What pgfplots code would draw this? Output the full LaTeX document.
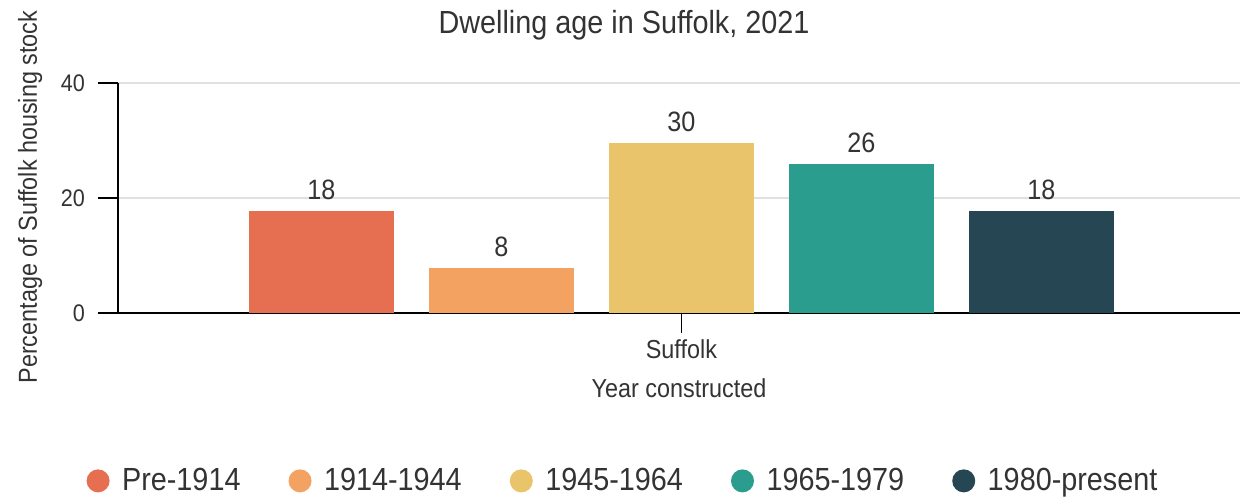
\documentclass[border=0pt]{standalone}
\usepackage{fontspec}
\setmainfont{Liberation Sans}[FakeStretch=0.9]
\usepackage{pgfplots}
\pgfplotsset{compat=1.18}
\definecolor{c1}{HTML}{E76F51}
\definecolor{c2}{HTML}{F4A261}
\definecolor{c3}{HTML}{E9C46A}
\definecolor{c4}{HTML}{2A9D8F}
\definecolor{c5}{HTML}{264653}
\definecolor{txt}{HTML}{333333}
\pgfplotsset{dotlegend/.style={legend image code/.code={\fill[##1] (0pt,0pt) circle (5.75pt); \path (10pt,0pt);}}}
\begin{document}
\begin{tikzpicture}
\begin{axis}[
  scale only axis, width=561pt, height=115pt,
  xmin=-0.13, xmax=6.103, ymin=0, ymax=40,
  axis x line*=bottom, axis y line*=left,
  axis line style={-, black, line width=0.9pt},
  ytick={0,20,40}, xtick={3}, xticklabels={Suffolk},
  tick align=outside, major tick length=10pt,
  tick style={black, line width=0.9pt},
  ymajorgrids, grid style={black!12, line width=0.8pt},
  ybar, bar width=0.81,
  /pgf/number format/assume math mode=true,
  yticklabel style={font=\fontsize{12}{14}\selectfont, text=txt, xshift=-3pt},
  xticklabel style={font=\fontsize{13}{15}\selectfont, text=txt},
  nodes near coords={\pgfmathprintnumber[fixed,precision=0]{\pgfplotspointmeta}},
  every node near coord/.style={font=\fontsize{14}{16}\selectfont, text=txt, yshift=2pt},
  title={Dwelling age in Suffolk, 2021},
  every axis title/.style={at={(axis description cs:0.451,1.252)}, anchor=center, font=\fontsize{16}{18}\selectfont, text=txt},
  xlabel={Year constructed},
  xlabel style={at={(axis description cs:0.5,-0.326)}, anchor=center, font=\fontsize{13}{15}\selectfont, text=txt},
  ylabel={Percentage of Suffolk housing stock},
  ylabel style={at={(axis description cs:-0.0784,0.504)}, anchor=center, font=\fontsize{13}{15}\selectfont, text=txt},
  legend columns=5,
  legend style={at={(axis description cs:0.451,-0.73)}, anchor=center, draw=none, font=\fontsize{16}{18}\selectfont, text=txt, /tikz/every even column/.append style={column sep=22pt}},
]
\addplot[fill=c1, draw=none, bar shift=0pt, dotlegend] coordinates {(1,17.7)};
\addlegendentry{Pre-1914}
\addplot[fill=c2, draw=none, bar shift=0pt, dotlegend] coordinates {(2,7.8)};
\addlegendentry{1914-1944}
\addplot[fill=c3, draw=none, bar shift=0pt, dotlegend] coordinates {(3,29.6)};
\addlegendentry{1945-1964}
\addplot[fill=c4, draw=none, bar shift=0pt, dotlegend] coordinates {(4,25.9)};
\addlegendentry{1965-1979}
\addplot[fill=c5, draw=none, bar shift=0pt, dotlegend] coordinates {(5,17.7)};
\addlegendentry{1980-present}
\end{axis}
\path (current axis.south west) ++(-59pt,-93pt) coordinate (bl);
\path (current axis.north east) ++(0pt,41.5pt) coordinate (tr);
\pgfresetboundingbox
\useasboundingbox (bl) rectangle (tr);
\end{tikzpicture}
\end{document}
